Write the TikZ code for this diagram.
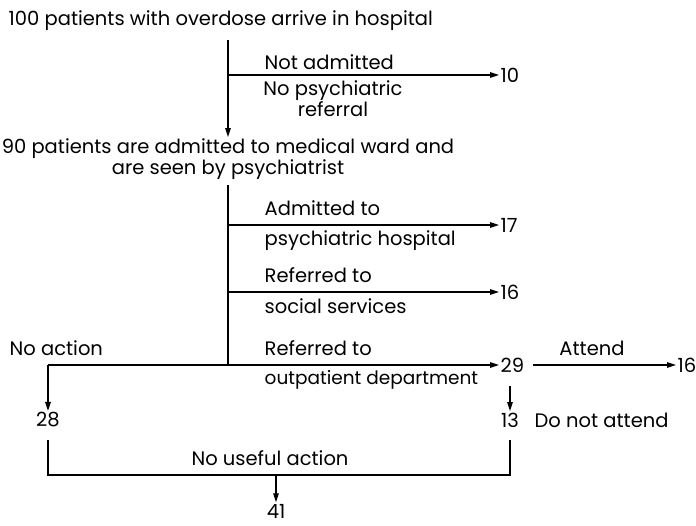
\documentclass[tikz,border=0pt]{standalone}
\usepackage{fontspec}
\setmainfont{Poppins}
\usetikzlibrary{arrows.meta}
\begin{document}
\begin{tikzpicture}[x=1pt,y=-1pt,
  lbl/.style={inner sep=1.5pt,font=\fontsize{19.5}{18.5}\selectfont},
  ln/.style={line width=1.4pt},
  arr/.style={ln,-{Triangle[length=9pt,width=5.5pt]}}]
\useasboundingbox[fill=white] (0,0) rectangle (696,525);
% texts
\node[lbl,anchor=west] (t1) at (7,21) {100 patients with overdose arrive in hospital};
\node[lbl,align=center] (t2) at (228,159) {90 patients are admitted to medical ward and\\are seen by psychiatrist};
\node[lbl,anchor=west] (la) at (263,62) {Not admitted};
\node[lbl,align=center] (lb) at (333,99) {No psychiatric\\referral};
\node[lbl,anchor=west] (lc) at (263,208) {Admitted to};
\node[lbl,anchor=west] (ld) at (263,241) {psychiatric hospital};
\node[lbl,anchor=west] (le) at (263,275) {Referred to};
\node[lbl,anchor=west] (lf) at (263,306) {social services};
\node[lbl,anchor=west] (lg) at (263,348) {Referred to};
\node[lbl,anchor=west,font=\fontsize{18.5}{18.5}\selectfont] (lh) at (263,380) {outpatient department};
\node[lbl,anchor=west] (li) at (8,348) {No action};
\node[lbl] (lj) at (592,348) {Attend};
\node[lbl,anchor=west] (lk) at (533,420) {Do not attend};
\node[lbl] (ll) at (270,458) {No useful action};
% numbers
\node[lbl,anchor=west] (n10) at (499,75) {10};
\node[lbl,anchor=west] (n17) at (499,225) {17};
\node[lbl,anchor=west] (n16a) at (499,292) {16};
\node[lbl,anchor=west] (n29) at (499,365) {29};
\node[lbl,anchor=west] (n16b) at (676,365) {16};
\node[lbl] (n28) at (48,420) {28};
\node[lbl] (n13) at (510,420) {13};
\node[lbl] (n41) at (276,511) {41};
% junctions
\coordinate (v0) at (228,40);
\coordinate (j1) at (228,75);
\coordinate (v1) at (228,137);
\coordinate (v2) at (228,185);
\coordinate (j2) at (228,225);
\coordinate (j3) at (228,292);
\coordinate (j4) at (228,365);
\coordinate (c28) at (48,365);
\coordinate (a16) at (533,365);
\coordinate (s29) at (510,386);
\coordinate (b28) at (48,440);
\coordinate (b13) at (510,440);
\coordinate (j5) at (276,475);
% connectors
\draw[arr] (v0) -- (v1);
\draw[arr] (j1) -- (n10.west);
\draw[ln] (v2) -- (j4);
\draw[arr] (j2) -- (n17.west);
\draw[arr] (j3) -- (n16a.west);
\draw[arr] (c28) -- (n29.west);
\draw[arr] (c28) -- (n28.north);
\draw[arr] (a16) -- (n16b.west);
\draw[arr] (s29) -- (n13.north);
\draw[ln] (b28) |- (j5) -| (b13);
\draw[arr] (j5) -- (n41.north);
\end{tikzpicture}
\end{document}
